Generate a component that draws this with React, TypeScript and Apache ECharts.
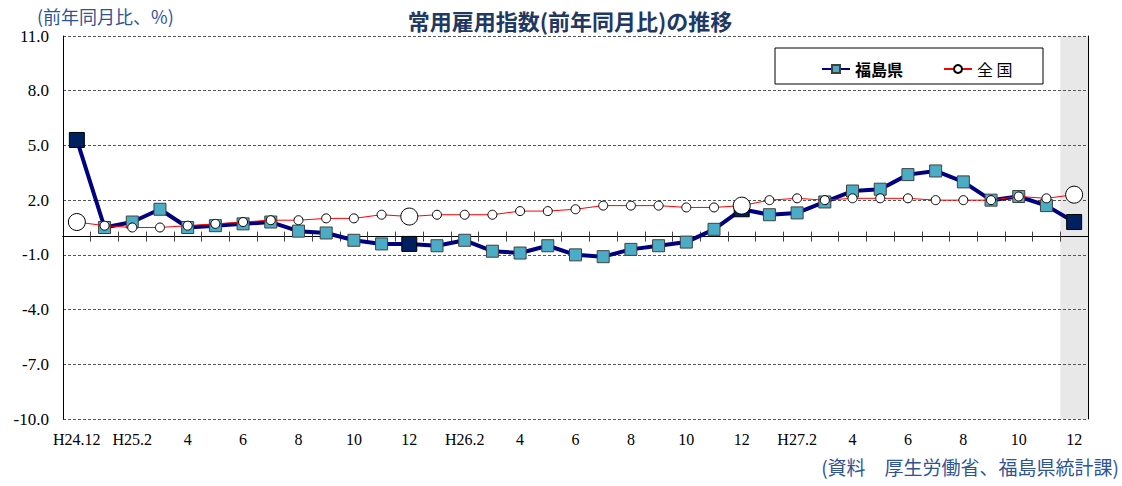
import React, { useEffect, useRef } from 'react';
import * as echarts from 'echarts';

const categories = [
  'H24.12',
  'H25.1', 'H25.2', 'H25.3', 'H25.4', 'H25.5', 'H25.6', 'H25.7', 'H25.8', 'H25.9', 'H25.10', 'H25.11', 'H25.12',
  'H26.1', 'H26.2', 'H26.3', 'H26.4', 'H26.5', 'H26.6', 'H26.7', 'H26.8', 'H26.9', 'H26.10', 'H26.11', 'H26.12',
  'H27.1', 'H27.2', 'H27.3', 'H27.4', 'H27.5', 'H27.6', 'H27.7', 'H27.8', 'H27.9', 'H27.10', 'H27.11', 'H27.12',
];

const tickLabels = [
  'H24.12',
  '', 'H25.2', '', '4', '', '6', '', '8', '', '10', '', '12',
  '', 'H26.2', '', '4', '', '6', '', '8', '', '10', '', '12',
  '', 'H27.2', '', '4', '', '6', '', '8', '', '10', '', '12',
];

const fukushima = [
  5.3,
  0.5, 0.8, 1.5, 0.5, 0.6, 0.7, 0.8, 0.3, 0.2, -0.2, -0.4, -0.4,
  -0.5, -0.2, -0.8, -0.9, -0.5, -1.0, -1.1, -0.7, -0.5, -0.3, 0.4, 1.5,
  1.2, 1.3, 1.9, 2.5, 2.6, 3.4, 3.6, 3.0, 2.0, 2.2, 1.7, 0.8,
];

const national = [
  0.8,
  0.6, 0.5, 0.5, 0.6, 0.7, 0.8, 0.9, 0.9, 1.0, 1.0, 1.2, 1.1,
  1.2, 1.2, 1.2, 1.4, 1.4, 1.5, 1.7, 1.7, 1.7, 1.6, 1.6, 1.7,
  2.0, 2.1, 2.0, 2.1, 2.1, 2.1, 2.0, 2.0, 2.0, 2.2, 2.1, 2.3,
];

const yMin = -10;
const yMax = 11;
const yInterval = 3;

const TITLE = '常用雇用指数(前年同月比)の推移';
const Y_NAME = '(前年同月比、%)';
const SOURCE = '(資料　厚生労働省、福島県統計課)';
const SERIES_PREF = '福島県';
const SERIES_NATION = '全 国';

const SERIF = '"Liberation Serif", "DejaVu Serif", serif';
const CJK = '"Noto Sans CJK JP", "Noto Sans", sans-serif';

export default function App() {
  const ref = useRef<HTMLDivElement>(null);

  useEffect(() => {
    if (!ref.current) return;
    const chart = echarts.init(ref.current, null, { renderer: 'svg' });

    const isYearEnd = (i: number) => categories[i].endsWith('.12');
    const bandColors = categories.map((_, i) =>
      i === categories.length - 1 ? '#e8e8e8' : 'rgba(0,0,0,0)'
    );

    const option: any = {
      animation: false,
      backgroundColor: '#ffffff',
      title: {
        text: TITLE,
        left: 565,
        textAlign: 'center',
        top: 4,
        textStyle: { fontFamily: CJK, fontSize: 22, fontWeight: 'bold', color: '#1f3864' },
      },
      graphic: [
        {
          type: 'text',
          left: 37,
          top: 7,
          style: { text: Y_NAME, font: `18px ${CJK}`, fill: '#2f5496' },
        },
        {
          type: 'text',
          right: 3,
          top: 457,
          style: { text: SOURCE, font: `19px ${CJK}`, fill: '#2f5496' },
        },
        {
          type: 'rect',
          shape: { x: 775, y: 48, width: 268, height: 36 },
          style: { fill: '#ffffff', stroke: '#000000', lineWidth: 1 },
        },
      ],
      legend: {
        left: 816,
        top: 56,
        itemGap: 40,
        itemWidth: 28,
        itemHeight: 10,
        textStyle: { fontFamily: CJK, fontSize: 16, color: '#000' },
        data: [
          { name: SERIES_PREF, textStyle: { fontWeight: 'bold' } },
          { name: SERIES_NATION },
        ],
      },
      grid: { left: 63, right: 34, top: 36, bottom: 67, containLabel: false },
      xAxis: [
        {
          type: 'category',
          data: categories,
          position: 'bottom',
          boundaryGap: true,
          z: 0,
          axisLine: { show: false, onZero: false },
          axisTick: { show: false },
          axisLabel: {
            interval: 0,
            margin: 12,
            formatter: (_v: string, i: number) => tickLabels[i],
            fontFamily: SERIF,
            fontSize: 16,
            color: '#000',
          },
          splitLine: { show: false },
          splitArea: { show: true, interval: 0, areaStyle: { color: bandColors } },
        },
        {
          type: 'category',
          data: categories,
          position: 'bottom',
          boundaryGap: true,
          axisLine: { show: true, onZero: true, onZeroAxisIndex: 0, lineStyle: { color: '#000', width: 1 } },
          axisTick: { show: true, interval: 0, length: 5, lineStyle: { color: '#444' } },
          axisLabel: { show: false },
          splitLine: { show: false },
        },
        {
          type: 'category',
          data: categories,
          position: 'top',
          boundaryGap: true,
          axisLine: { show: true, onZero: true, onZeroAxisIndex: 0, lineStyle: { color: '#000', width: 1 } },
          axisTick: { show: true, interval: 0, length: 5, lineStyle: { color: '#444' } },
          axisLabel: { show: false },
          splitLine: { show: false },
        },
      ],
      yAxis: [
        {
          type: 'value',
          min: yMin,
          max: yMax,
          interval: yInterval,
          z: 1,
          axisLine: { show: true, onZero: false, lineStyle: { color: '#000', width: 1 } },
          axisTick: { show: false },
          axisLabel: {
            margin: 14,
            formatter: (v: number) => v.toFixed(1),
            fontFamily: SERIF,
            fontSize: 17,
            color: '#000',
          },
          splitLine: { show: true, lineStyle: { color: '#555', width: 1, type: [3, 2] } },
        },
        {
          type: 'value',
          position: 'right',
          min: yMin,
          max: yMax,
          interval: yInterval,
          z: 1,
          axisLine: { show: true, onZero: false, lineStyle: { color: '#000', width: 1 } },
          axisTick: { show: false },
          axisLabel: { show: false },
          splitLine: { show: false },
        },
      ],
      series: [
        {
          name: SERIES_PREF,
          type: 'line',
          symbol: 'rect',
          symbolSize: 12,
          lineStyle: { color: '#000080', width: 4 },
          itemStyle: { color: '#4bacc6', borderColor: '#404040', borderWidth: 1 },
          z: 3,
          data: fukushima.map((v, i) =>
            isYearEnd(i)
              ? { value: v, symbolSize: 15, itemStyle: { color: '#002060', borderColor: '#000', borderWidth: 1 } }
              : { value: v }
          ),
        },
        {
          name: SERIES_NATION,
          type: 'line',
          symbol: 'circle',
          symbolSize: 9,
          lineStyle: { color: '#ff0000', width: 1 },
          itemStyle: { color: '#ffffff', borderColor: '#000', borderWidth: 1 },
          z: 4,
          data: national.map((v, i) =>
            isYearEnd(i) ? { value: v, symbolSize: 17 } : { value: v }
          ),
        },
      ],
    };

    chart.setOption(option);
    return () => chart.dispose();
  }, []);

  return (
    <div
      ref={ref}
      style={{ position: 'fixed', left: 0, top: 0, width: 1122, height: 486 }}
    />
  );
}
